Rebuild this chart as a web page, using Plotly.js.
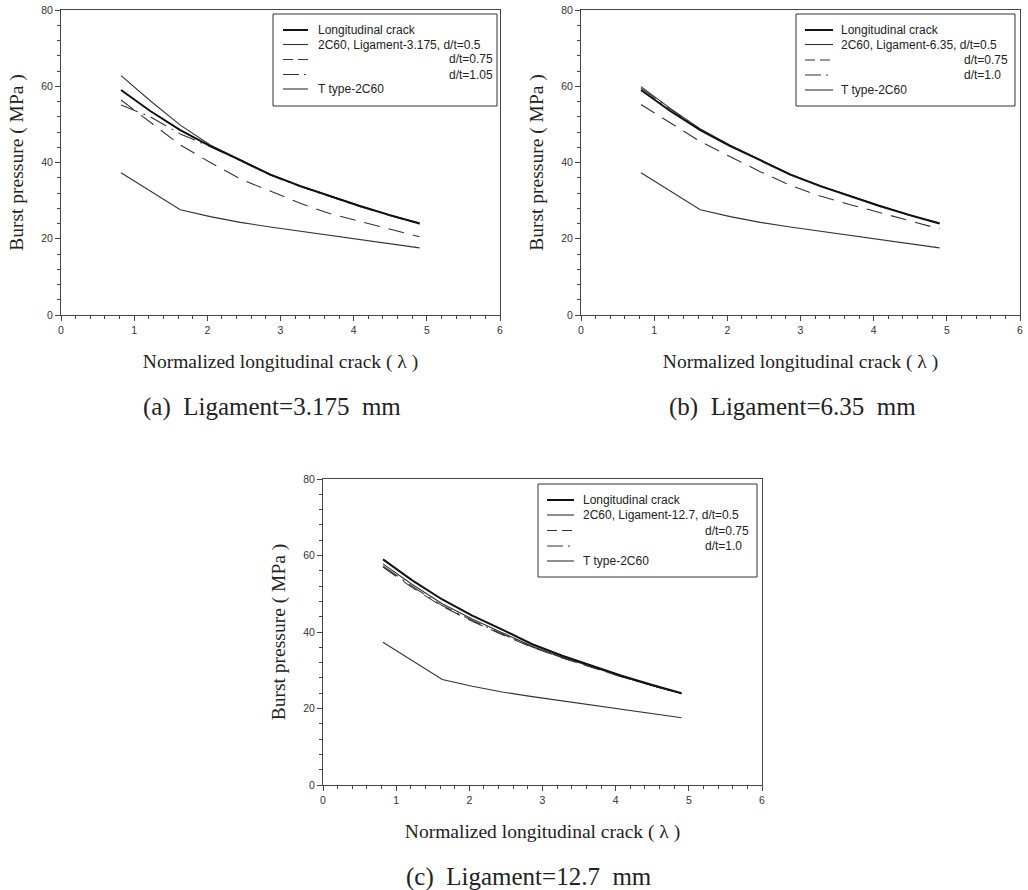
<!DOCTYPE html>
<html>
<head>
<meta charset="utf-8">
<script src="https://cdn.plot.ly/plotly-3.0.1.min.js"></script>
<style>html,body{margin:0;padding:0;background:#fff}#chart{width:1028px;height:890px}</style>
</head>
<body>
<div id="chart"></div>
<script>
// ---- data ----
const lambda = [0.82, 1.22, 1.63, 2.04, 2.45, 2.86, 3.27, 3.67, 4.08, 4.49, 4.90];

const longitudinal = [59.0, 53.5, 48.5, 44.3, 40.6, 36.8, 33.8, 31.2, 28.6, 26.2, 24.0];
const tType2C60    = [37.3, 32.4, 27.6, 25.8, 24.3, 23.1, 22.0, 21.0, 19.8, 18.7, 17.6];

// (a) Ligament = 3.175 mm
const a_dt050 = [62.8, 56.2, 49.8, 44.6, 40.7, 36.9, 33.9, 31.3, 28.7, 26.3, 24.1];
const a_dt075 = [56.4, 50.5, 44.6, 40.0, 35.7, 32.5, 29.3, 26.6, 24.5, 22.5, 20.5];
const a_dt105 = [55.1, 52.0, 47.5, 44.2, 40.5, 36.7, 33.7, 31.1, 28.5, 26.1, 23.9];

// (b) Ligament = 6.35 mm
const b_dt050 = [59.9, 54.2, 48.8, 44.5, 40.7, 36.9, 33.9, 31.3, 28.7, 26.3, 24.1];
const b_dt075 = [55.2, 50.3, 45.5, 41.5, 37.6, 34.0, 31.2, 29.0, 26.8, 24.7, 22.6];
const b_dt100 = [59.5, 54.0, 48.7, 44.4, 40.6, 36.9, 33.9, 31.2, 28.6, 26.2, 24.0];

// (c) Ligament = 12.7 mm
const c_dt050 = [57.8, 52.4, 47.4, 43.4, 39.8, 36.3, 33.4, 30.9, 28.4, 26.1, 23.9];
const c_dt075 = [57.0, 51.6, 46.7, 42.8, 39.3, 36.0, 33.2, 30.7, 28.3, 26.0, 23.9];
const c_dt100 = [57.3, 51.9, 46.9, 43.0, 39.5, 36.1, 33.3, 30.8, 28.3, 26.0, 23.9];

const legendA = ['Longitudinal crack', '2C60, Ligament-3.175, d/t=0.5', 'd/t=0.75', 'd/t=1.05', 'T type-2C60'];
const legendB = ['Longitudinal crack', '2C60, Ligament-6.35, d/t=0.5', 'd/t=0.75', 'd/t=1.0', 'T type-2C60'];
const legendC = ['Longitudinal crack', '2C60, Ligament-12.7, d/t=0.5', 'd/t=0.75', 'd/t=1.0', 'T type-2C60'];

const captions = ['(a)\u00a0\u00a0Ligament=3.175\u00a0\u00a0mm', '(b)\u00a0\u00a0Ligament=6.35\u00a0\u00a0mm', '(c)\u00a0\u00a0Ligament=12.7\u00a0\u00a0mm'];
const xTitle = 'Normalized longitudinal crack ( \u03bb )';
const yTitle = 'Burst pressure ( MPa )';

// ---- styles ----
const W = 1028, H = 890;
const styles = [
  {width: 2.0, dash: 'solid', color: '#111'},
  {width: 1.1, dash: 'solid', color: '#333'},
  {width: 1.1, dash: '16px,9px', color: '#333'},
  {width: 1.1, dash: '18px,6px,2px,6px', color: '#333'},
  {width: 1.1, dash: 'solid', color: '#333'}
];
const legendSampleDash = ['solid', 'solid', '10px,5px', '16px,5px,2px,5px', 'solid'];

const panels = [
  {ax: '', series: [longitudinal, a_dt050, a_dt075, a_dt105, tType2C60], labels: legendA,
   box: {l: 61, r: 500, t: 10, b: 315},
   leg: {l: 273, r: 497, t: 14, b: 106, rows: [30, 44.5, 59.5, 74.5, 89], s0: 283, s1: 308, tx: 316, tx2: 447},
   cap: {x: 272, y: 407}},
  {ax: '2', series: [longitudinal, b_dt050, b_dt075, b_dt100, tType2C60], labels: legendB,
   box: {l: 581, r: 1020, t: 10, b: 315},
   leg: {l: 796, r: 1015, t: 14, b: 106, rows: [30, 44.5, 60, 75, 90], s0: 805, s1: 833, tx: 839, tx2: 962},
   cap: {x: 792, y: 407}},
  {ax: '3', series: [longitudinal, c_dt050, c_dt075, c_dt100, tType2C60], labels: legendC,
   box: {l: 323, r: 762, t: 479, b: 785},
   leg: {l: 538, r: 757, t: 484, b: 577, rows: [500, 515, 530.5, 546, 561], s0: 547, s1: 574, tx: 581, tx2: 703},
   cap: {x: 529, y: 877}}
];

const px = v => v / W;
const py = v => 1 - v / H;

const traces = [];
const shapes = [];
const annotations = [];
const layout = {
  width: W, height: H,
  margin: {l: 0, r: 0, t: 0, b: 0},
  paper_bgcolor: '#fff', plot_bgcolor: '#fff',
  showlegend: false,
  font: {family: 'Liberation Sans, Arial, sans-serif', color: '#222'}
};

const tickfont = {family: 'Liberation Sans, Arial, sans-serif', size: 10.5, color: '#333'};
const titlefont = {family: 'Liberation Serif, Times New Roman, serif', size: 19.5, color: '#222'};

panels.forEach((p, i) => {
  const xa = 'x' + p.ax, ya = 'y' + p.ax;
  // draw order: dashed first, thick longitudinal last
  [4, 2, 3, 1, 0].forEach(k => {
    traces.push({
      type: 'scatter', mode: 'lines', x: lambda, y: p.series[k],
      xaxis: xa, yaxis: ya, name: p.labels[k], showlegend: false,
      line: {color: styles[k].color, width: styles[k].width, dash: styles[k].dash},
      hoverinfo: 'x+y'
    });
  });
  const common = {showgrid: false, zeroline: false, showline: true, linecolor: '#444', linewidth: 1,
    mirror: true, ticks: 'outside', ticklen: 5, tickwidth: 1, tickcolor: '#444', tickfont: tickfont, fixedrange: true};
  layout['xaxis' + p.ax] = Object.assign({}, common, {
    domain: [px(p.box.l), px(p.box.r)], anchor: ya, range: [0, 6], dtick: 1, tick0: 0,
    minor: {dtick: 0.2, ticks: 'outside', ticklen: 3, tickcolor: '#444', showgrid: false},
    title: {text: xTitle, font: titlefont, standoff: 19}
  });
  layout['yaxis' + p.ax] = Object.assign({}, common, {
    domain: [py(p.box.b), py(p.box.t)], anchor: xa, range: [0, 80], dtick: 20, tick0: 0,
    minor: {dtick: 4, ticks: 'outside', ticklen: 3, tickcolor: '#444', showgrid: false},
    title: {text: yTitle, font: titlefont, standoff: 12}
  });
  // legend box
  const L = p.leg;
  shapes.push({type: 'rect', xref: 'paper', yref: 'paper', x0: px(L.l), x1: px(L.r), y0: py(L.b), y1: py(L.t),
    line: {color: '#333', width: 1}, fillcolor: '#fff', layer: 'above'});
  L.rows.forEach((ry, k) => {
    shapes.push({type: 'line', xref: 'paper', yref: 'paper', x0: px(L.s0), x1: px(L.s1), y0: py(ry), y1: py(ry),
      line: {color: styles[k].color, width: styles[k].width, dash: legendSampleDash[k]}, layer: 'above'});
    annotations.push({xref: 'paper', yref: 'paper', x: px(k === 2 || k === 3 ? L.tx2 : L.tx), y: py(ry),
      xanchor: 'left', yanchor: 'middle', showarrow: false, text: p.labels[k],
      font: {family: 'Liberation Sans, Arial, sans-serif', size: 12, color: '#222'}});
  });
  annotations.push({xref: 'paper', yref: 'paper', x: px(p.cap.x), y: py(p.cap.y), xanchor: 'center', yanchor: 'middle',
    showarrow: false, text: captions[i], font: {family: 'Liberation Serif, Times New Roman, serif', size: 25, color: '#222'}});
});

layout.shapes = shapes;
layout.annotations = annotations;

Plotly.newPlot('chart', traces, layout, {displayModeBar: false, staticPlot: true});
</script>
</body>
</html>
